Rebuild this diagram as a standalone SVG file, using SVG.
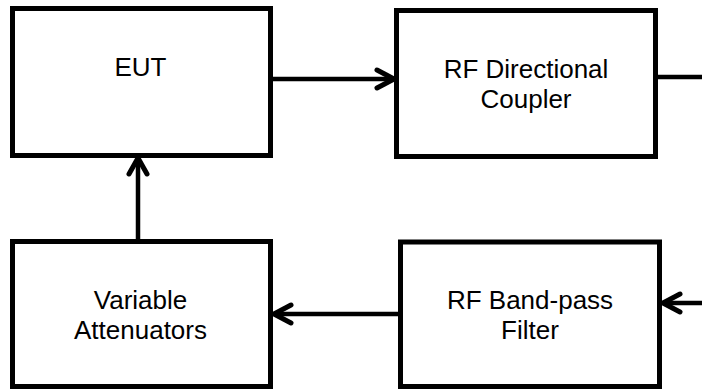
<svg xmlns="http://www.w3.org/2000/svg" width="702" height="389" viewBox="0 0 702 389">
<style>
.box{fill:#fff;stroke:#000;stroke-width:5}
.lbl{font-family:"Liberation Sans",Arial,sans-serif;font-size:26px;fill:#000;text-anchor:middle}
.ln{stroke:#000;stroke-width:4.5;fill:none}
.hd{stroke:#000;stroke-width:5;fill:none;stroke-linecap:round;stroke-linejoin:round}
</style>
<rect width="702" height="389" fill="#fff"/>
<g id="connectors">
<line class="ln" x1="273" y1="79" x2="392" y2="79"/>
<polyline class="hd" points="377,70 394,79 377,88"/>
<line class="ln" x1="658" y1="77" x2="702" y2="77"/>
<line class="ln" x1="138" y1="239" x2="138" y2="160"/>
<polyline class="hd" points="129,174 138,158 147,174"/>
<line class="ln" x1="398" y1="314" x2="276" y2="314"/>
<polyline class="hd" points="291,305 274,314 291,323"/>
<line class="ln" x1="702" y1="303" x2="665" y2="303"/>
<polyline class="hd" points="680,294 663,303 680,312"/>
</g>
<g id="eut">
<rect class="box" x="12.5" y="8.5" width="258" height="147"/>
<text class="lbl" x="140.5" y="76">EUT</text>
</g>
<g id="coupler">
<rect class="box" x="396.5" y="10.5" width="259" height="146"/>
<text class="lbl" x="526" y="78">RF Directional</text>
<text class="lbl" x="526" y="108">Coupler</text>
</g>
<g id="attenuators">
<rect class="box" x="12.5" y="241.5" width="258" height="145"/>
<text class="lbl" x="140.5" y="308.5">Variable</text>
<text class="lbl" x="140.5" y="338.5">Attenuators</text>
</g>
<g id="filter">
<rect class="box" x="400.5" y="242" width="259" height="144.5"/>
<text class="lbl" x="530" y="308.5">RF Band-pass</text>
<text class="lbl" x="530" y="338.5">Filter</text>
</g>
</svg>
